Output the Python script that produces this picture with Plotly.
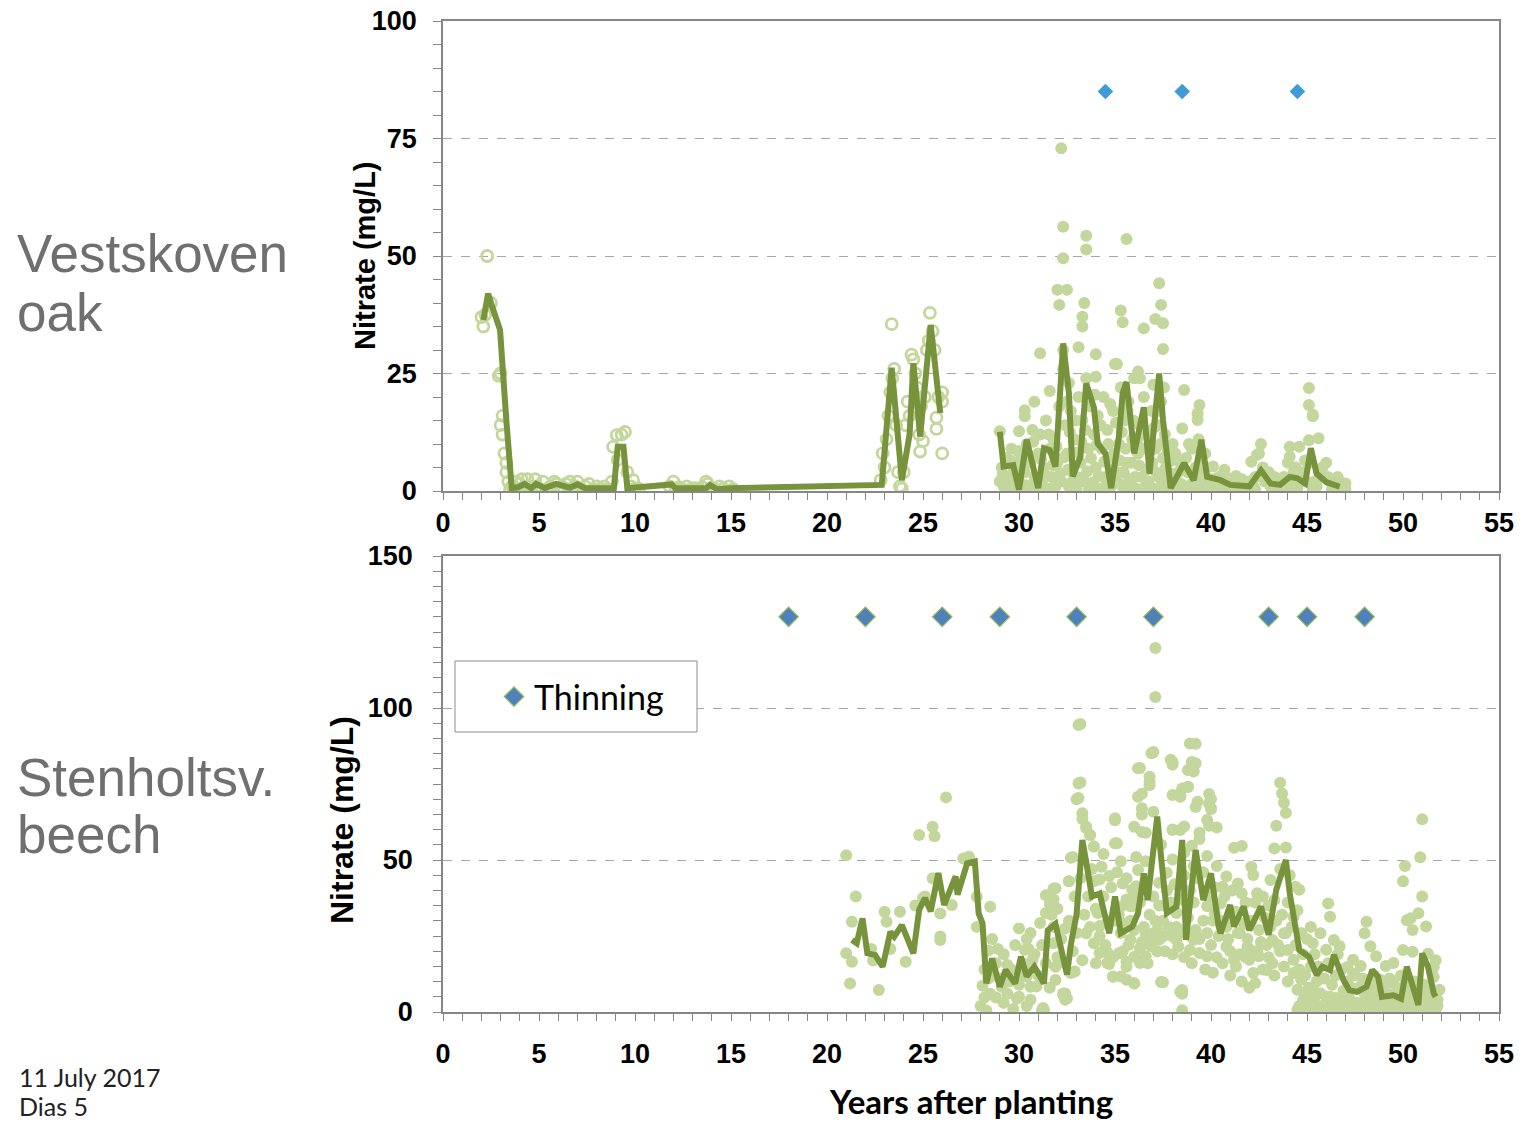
import plotly.graph_objects as go

W, H = 1523, 1122

# ---------------- DATA ----------------
years_ticks = [0, 5, 10, 15, 20, 25, 30, 35, 40, 45, 50, 55]

# Vestskoven oak: early observations (open circles)
oak_early_pts = [
    (2.0, 37), (2.1, 35), (2.2, 37.5), (2.3, 50), (2.5, 40), (2.9, 24.5), (3.0, 25), (3.0, 14),
    (3.1, 16), (3.1, 12), (3.2, 8), (3.3, 6), (3.3, 4), (3.4, 2), (3.5, 0.5), (3.6, 1), (3.7, 0.3),
    (3.8, 2), (3.9, 0.5), (4.0, 1.5), (4.1, 2.5), (4.2, 0.4), (4.4, 2.5), (4.5, 1), (4.6, 0.3),
    (4.8, 2.5), (4.9, 1), (5.0, 0.5), (5.2, 2), (5.4, 0.4), (5.6, 1), (5.8, 2), (5.9, 1.5),
    (6.0, 0.4), (6.2, 1), (6.4, 1.5), (6.6, 2), (6.7, 0.5), (6.9, 1), (7.0, 2), (7.2, 0.5),
    (7.4, 1), (7.6, 1.5), (7.8, 0.3), (8.0, 1), (8.2, 0.5), (8.4, 1), (8.6, 0.4), (8.8, 2),
    (8.86, 9.4), (9.05, 11.9), (9.1, 6.6), (9.3, 12), (9.48, 12.6), (9.6, 4), (9.8, 1), (9.9, 2.3),
    (10.0, 0.5), (10.2, 0.5), (11.8, 1), (12.0, 2), (12.1, 0.3), (12.3, 0.8), (12.5, 0.3),
    (12.7, 1), (12.9, 0.4), (13.1, 0.6), (13.3, 0.3), (13.5, 0.8), (13.7, 2), (13.8, 1.5),
    (14.0, 0.5), (14.2, 0.3), (14.4, 1), (14.6, 0.5), (14.9, 1), (15.1, 0.4),
    (22.8, 2.3), (22.9, 8), (23.0, 5), (23.1, 11), (23.2, 16), (23.3, 21), (23.37, 35.5),
    (23.4, 24), (23.5, 26), (23.6, 14), (23.7, 4), (23.8, 1), (23.9, 0.5), (24.0, 4), (24.1, 14),
    (24.2, 19), (24.3, 16), (24.4, 29), (24.5, 28), (24.6, 25), (24.7, 22), (24.8, 12),
    (24.85, 8.4), (24.9, 18), (25.0, 10.6), (25.1, 20), (25.2, 30), (25.3, 32), (25.36, 37.9),
    (25.5, 34), (25.6, 30), (25.7, 15.6), (25.7, 13.2), (25.8, 20), (26.0, 21), (26.0, 19), (26.0, 8),
]

# Vestskoven oak: later observations (filled circles)
oak_late_pts = [
    (29.0, 12.7), (29.0, 2), (29.1, 5), (29.2, 1), (29.3, 7), (29.4, 3), (29.5, 0.5), (29.6, 9),
    (29.7, 4), (29.8, 1), (29.9, 6), (30.0, 12.7), (30.0, 2), (30.1, 8), (30.2, 0.5), (30.3, 17.2),
    (30.3, 15.9), (30.3, 4), (30.4, 10), (30.5, 1), (30.6, 6), (30.7, 13), (30.8, 19), (30.8, 3),
    (30.9, 0.5), (31.0, 8), (31.1, 29.3), (31.1, 12), (31.2, 2), (31.3, 5), (31.4, 15), (31.5, 0.5),
    (31.6, 21.3), (31.6, 9), (31.7, 3), (31.8, 11), (31.9, 1), (32.0, 42.8), (32.0, 6),
    (32.1, 39.6), (32.1, 18), (32.2, 72.9), (32.2, 2), (32.3, 56.2), (32.3, 49.5), (32.3, 30),
    (32.3, 26), (32.4, 14), (32.5, 42.8), (32.5, 8), (32.6, 23), (32.6, 1), (32.7, 17), (32.8, 4),
    (32.9, 11), (33.0, 0.5), (33.1, 30.6), (33.1, 20), (33.2, 6), (33.3, 37.1), (33.3, 35),
    (33.3, 15), (33.4, 40), (33.4, 2), (33.5, 54.3), (33.5, 51.4), (33.5, 24), (33.6, 9),
    (33.7, 18), (33.8, 1), (33.9, 12), (34.0, 29.1), (34.0, 24.3), (34.0, 5), (34.1, 16),
    (34.2, 0.5), (34.3, 9), (34.4, 20), (34.5, 3), (34.6, 13), (34.7, 7), (34.8, 1), (34.9, 17),
    (35.0, 27), (35.1, 27), (35.1, 4), (35.2, 10), (35.3, 38.4), (35.3, 22), (35.4, 35.9),
    (35.4, 1), (35.5, 15), (35.6, 53.6), (35.6, 6), (35.7, 19), (35.8, 2), (35.9, 11), (36.0, 24),
    (36.1, 0.5), (36.2, 25.4), (36.2, 8), (36.3, 24), (36.3, 14), (36.4, 3), (36.5, 34.6),
    (36.5, 20), (36.6, 1), (36.7, 12), (36.8, 5), (36.9, 17), (37.0, 22.6), (37.0, 0.5),
    (37.1, 36.6), (37.1, 9), (37.2, 14), (37.3, 44.2), (37.3, 3), (37.4, 39.6), (37.4, 19),
    (37.5, 35.7), (37.5, 30.2), (37.5, 7), (37.6, 12), (37.7, 1), (37.8, 4), (37.9, 0.5),
    (38.0, 10), (38.2, 2), (38.4, 6), (38.5, 13.3), (38.6, 21.5), (38.6, 1), (38.8, 4), (39.0, 9),
    (39.1, 0.5), (39.3, 16.5), (39.3, 15.1), (39.3, 3), (39.4, 18.3), (39.5, 6), (39.6, 1),
    (39.7, 8), (39.9, 2), (40.1, 5.2), (40.2, 0.5), (40.4, 3), (40.6, 1), (40.8, 3), (41.0, 0.5),
    (41.2, 2), (41.4, 1), (41.6, 2.5), (41.8, 0.5), (42.0, 2), (42.1, 6.2), (42.2, 1), (42.4, 7.7),
    (42.5, 8), (42.6, 10), (42.8, 2), (43.0, 4), (43.1, 1), (43.3, 3), (43.5, 0.5), (43.7, 2),
    (43.9, 1), (44.1, 9.4), (44.1, 7.3), (44.2, 2), (44.4, 5), (44.5, 0.5), (44.6, 9.4),
    (44.8, 4), (45.0, 2), (45.1, 21.9), (45.1, 18.3), (45.1, 10.8), (45.3, 15.9), (45.3, 16.2),
    (45.5, 1), (45.6, 11.2), (45.7, 3), (46.0, 6), (46.2, 2), (46.4, 1.5), (46.5, 0.5), (46.6, 3),
    (46.6, 1.9), (46.8, 1.6), (47.0, 1.6), (47.0, 0.5),
    (30.45, 0.3), (31.25, 0.3), (32.85, 0.3), (33.65, 0.3), (34.35, 0.3), (35.65, 0.3),
    (36.35, 0.3), (37.25, 0.3), (38.1, 0.3), (38.9, 0.3), (39.8, 0.3), (40.5, 0.3), (41.5, 0.3),
    (42.3, 0.3), (43.2, 0.3), (44.3, 0.3), (45.3, 0.3), (46.3, 0.3),
    (29.15, 3.5), (29.35, 1.5), (29.55, 6.5), (29.75, 2.5), (29.95, 8.5), (30.15, 4.5),
    (30.35, 1.2), (30.55, 7.5), (30.75, 10.5), (30.95, 2.2), (31.15, 6.8), (31.35, 3.3),
    (31.55, 12), (31.75, 5.5), (31.95, 9.5), (32.15, 3.8), (32.35, 7.2), (32.45, 19),
    (32.55, 4.5), (32.65, 12.5), (32.75, 1.8), (32.95, 15), (33.05, 8.2), (33.15, 2.8),
    (33.25, 10.5), (33.45, 13), (33.55, 4.2), (33.75, 7), (33.85, 1.8), (33.95, 20.5),
    (34.05, 9.8), (34.15, 3.2), (34.25, 14), (34.45, 6.3), (34.55, 1.5), (34.65, 10),
    (34.75, 18.5), (34.85, 4.5), (34.95, 8), (35.05, 14.5), (35.15, 1.8), (35.25, 6.5),
    (35.35, 12.5), (35.45, 4), (35.55, 9), (35.65, 17), (35.75, 2.5), (35.85, 6), (35.95, 15),
    (36.05, 3), (36.15, 11), (36.25, 5.5), (36.45, 9), (36.55, 13), (36.65, 4.5), (36.75, 2),
    (36.85, 9.5), (36.95, 6), (37.05, 13.5), (37.15, 4), (37.25, 17), (37.35, 10), (37.45, 1.8),
    (37.55, 22), (37.65, 5), (37.75, 8.5), (37.85, 2.2), (37.95, 6.5), (38.05, 3.5), (38.15, 8),
    (38.3, 4), (38.45, 1.5), (38.7, 7), (38.85, 10), (39.0, 1.5), (39.2, 5), (39.35, 11),
    (39.6, 3.5), (39.75, 5), (40.0, 2.5), (40.3, 1.5), (40.7, 4.5), (41.1, 1.2), (41.3, 3.2),
    (41.7, 1.2), (42.3, 3), (42.7, 5), (42.9, 3), (43.4, 1.5), (43.8, 3), (44.0, 6), (44.3, 4),
    (44.7, 2), (44.9, 6.5), (45.15, 6), (45.4, 2), (45.8, 5), (46.1, 3), (46.7, 0.8),
]

# Vestskoven oak: running mean (None breaks the line)
oak_mean_pts = [
    (2.1, 36.4), (2.35, 42), (2.5, 40), (2.97, 34.3), (3.3, 15), (3.58, 0.6), (3.9, 0.8),
    (4.25, 1.5), (4.6, 0.6), (4.85, 1.5), (5.3, 0.6), (5.9, 1.5), (6.6, 0.7), (7.0, 1.4),
    (7.4, 0.6), (8.5, 0.6), (8.9, 0.6), (9.1, 9.4), (9.4, 9.4), (9.6, 0.6), (11.9, 1.4),
    (12.1, 0.6), (13.7, 0.6), (13.9, 1.3), (14.25, 0.4), (14.95, 0.6), (22.85, 1.3),
    (23.37, 26.2), (23.9, 2.3), (24.3, 12), (24.5, 27.2), (24.85, 11.6), (25.4, 35.3),
    (25.9, 16.6),
    (None, None),
    (29.0, 12.6), (29.2, 5.2), (29.7, 5.5), (30.0, 0.3), (30.4, 10.9), (30.7, 5.2), (31.0, 0.6),
    (31.3, 9.1), (31.6, 8.7), (31.9, 5.2), (32.3, 31.4), (32.6, 20.8), (32.8, 3.1), (33.2, 7.3),
    (33.5, 22.9), (33.9, 17.8), (34.1, 10.1), (34.5, 8), (34.8, 0.6), (35.2, 11.5), (35.4, 20.8),
    (35.6, 23.2), (36.0, 8), (36.5, 17.8), (36.8, 3.7), (37.3, 25), (37.5, 15.1), (37.9, 0.6),
    (38.6, 5.9), (39.1, 2.3), (39.5, 10.9), (39.8, 3.0), (40.5, 2.3), (41.0, 1.3), (42.0, 1.0),
    (42.6, 4.4), (43.1, 1.6), (43.6, 1.3), (44.1, 3.0), (44.5, 2.7), (44.9, 1.6), (45.2, 9.1),
    (45.5, 3.7), (46.0, 1.9), (46.7, 0.9),
]

oak_thinning_years = [34.5, 38.5, 44.5]
oak_thinning_level = 85

# Stenholtsvang beech: observations
beech_pts = [
    (21.0, 51.6), (21.5, 38), (21.3, 29.7), (21.0, 19.3), (21.3, 16.5), (21.2, 9.4), (22.3, 20.7),
    (22.4, 16.9), (22.7, 7.2), (23.0, 33), (23.1, 29.7), (23.3, 20.7), (23.8, 33), (24.1, 16.5),
    (24.8, 58.2), (24.6, 35), (25.0, 37.5), (25.1, 38), (25.5, 60.9), (25.6, 57.8), (25.5, 44),
    (25.9, 23.7), (25.9, 24.8), (26.2, 70.6), (25.9, 32.4), (26.5, 35.2), (27.1, 50.5),
    (27.4, 51.1), (27.8, 37.9), (27.8, 28), (28.5, 34.6), (28.4, 20.2), (28.9, 20.7), (28.1, 8.6),
    (28.2, 4.8), (28.8, 4.8), (29.1, 8.3), (29.4, 15.5), (29.9, 4.4), (30.0, 27.5), (30.3, 14.9),
    (30.5, 20.7), (30.6, 8.3), (31.2, 0.6), (31.6, 38.5), (31.9, 40.7), (31.6, 32.6), (31.7, 32),
    (31.9, 10.5), (32.3, 6.1), (32.5, 4.4), (32.6, 43), (32.7, 50.7), (32.9, 13.3), (33.1, 75.2),
    (33.0, 70), (33.3, 65.4), (33.5, 60.9), (33.7, 58.2), (33.9, 54.4), (34.3, 47.8), (33.9, 43),
    (34.1, 32.6), (34.2, 28.3), (34.6, 19.6), (34.7, 15.8), (34.9, 11.6), (35.0, 63.1),
    (35.0, 55.5), (35.3, 49.6), (35.4, 42.3), (35.9, 40.2), (35.3, 34.6), (35.8, 35.2),
    (35.2, 19.3), (35.6, 16.5), (36.0, 9.4), (36.0, 60.9), (36.4, 59.2), (36.4, 67), (36.4, 71.8),
    (36.8, 75.7), (37.0, 65.9), (37.4, 9.9), (38.4, 6.6), (38.0, 71.4), (38.4, 70.8), (38.8, 74.1),
    (38.0, 59.9), (38.4, 59.9), (39.3, 69.2), (36.6, 49.6), (36.2, 46.7), (37.0, 25.9),
    (37.5, 24.8), (38.0, 24.8), (38.3, 21.5), (36.4, 23), (36.0, 18.2), (35.6, 14.9), (38.9, 20.4),
    (39.0, 24.8), (38.5, 6), (38.5, 0.6),
    (33.2, 94.7), (33.1, 94.4), (33.2, 75.5), (33.1, 70.4), (33.3, 63.5), (33.5, 60.5),
    (33.7, 58.2), (32.8, 51), (32.6, 43), (33.9, 54.4), (35.0, 63.7), (35.1, 55.5), (36.2, 80.2),
    (36.9, 85.1), (36.8, 77.4), (36.8, 74.6), (36.2, 70.8), (36.4, 65), (36.6, 59),
    (37.1, 119.7), (37.1, 103.6), (37.0, 85.5), (36.3, 80.3), (37.9, 83), (38.0, 81.3),
    (38.0, 82.2), (39.2, 88.2), (38.9, 88.3), (39.0, 82.2), (38.8, 79.6), (38.5, 73.5),
    (38.3, 71.4), (39.9, 71.7), (39.9, 68.6), (40.0, 67), (39.8, 63.2), (38.6, 61), (38.0, 60),
    (39.4, 59), (31.4, 38.4), (31.8, 40.6), (31.6, 35.7), (32.4, 27.5), (32.4, 6.1), (32.4, 4.0),
    (31.3, 0.6), (38.5, 7.2), (37.5, 9.8),
    (33.5, 25.9), (33.9, 22.6), (34.2, 19.4), (34.6, 16.1), (34.9, 11.7), (35.3, 11.7),
    (35.6, 10.6), (36.0, 9.5), (36.6, 18.3), (36.3, 16.1), (36.9, 21.6), (37.3, 23.8),
    (36.6, 26), (37.2, 27.1), (37.8, 26), (38.2, 23.8), (39.1, 23.8), (39.4, 19.4), (39.8, 18.3),
    (40.1, 12.9), (35.3, 26), (35.8, 23.8), (35.8, 34.8), (36.1, 41.4), (34.2, 43.6),
    (34.7, 44.7), (34.2, 32.8), (34.6, 29.5), (35.6, 37), (35.9, 34.8), (37.3, 42.5),
    (37.7, 45.8), (38.0, 50.2), (38.6, 52.4), (39.1, 48), (39.8, 51.3), (40.3, 48), (37.7, 34.8),
    (38.2, 32.6), (39.8, 34.8), (40.2, 32.6), (31.8, 37), (31.4, 32.6), (31.1, 29.3), (30.6, 26),
    (30.3, 20.5), (30.7, 17.2), (31.8, 22.6), (31.9, 14.9), (30.4, 11.7), (30.9, 8.4),
    (32.7, 12.8), (32.3, 5.6), (31.25, 1.3),
    (39.2, 81.8), (39.1, 79.1), (38.8, 74), (38.4, 71.2), (40.0, 70.1), (40.0, 66.8),
    (39.9, 61.3), (40.3, 60.7), (39.2, 67.4), (39.4, 56.9), (39.0, 54.7),
    (43.6, 75.4), (43.7, 71.9), (43.8, 68.8), (43.9, 65.5), (43.4, 61.3), (43.3, 53.8),
    (43.9, 54.1), (41.2, 54), (41.6, 54.6), (42.1, 47.8), (42.2, 45.1), (40.8, 44.6),
    (40.6, 41.2), (41.4, 42.3), (41.6, 39.1), (42.4, 39.1), (42.7, 38), (43.1, 43.4),
    (43.3, 36.8), (40.5, 35.7), (41.0, 31.3), (41.5, 25.9), (41.9, 21.5), (40.8, 21.5),
    (41.2, 17.2), (42.0, 17.2), (42.5, 18.3), (42.9, 13.8), (42.2, 12.8), (42.3, 9.5),
    (43.2, 23.7), (43.8, 25.9), (44.3, 31.3), (44.5, 33.5), (44.4, 41.2), (44.6, 40.2),
    (44.5, 0.7), (44.0, 20.4), (44.3, 17.2), (44.3, 12.8), (44.7, 10.6), (44.5, 7.3), (44.9, 6.2),
    (45.2, 28), (45.7, 25.9), (46.1, 35.7), (46.2, 31.3), (45.3, 22.6), (46.0, 20.5),
    (46.4, 23.7), (46.7, 21.6), (45.3, 7.3), (45.7, 6.2), (46.0, 5.1), (46.5, 4.6), (47.0, 6.2),
    (47.6, 3), (48.1, 29.7), (48.0, 25.9), (48.3, 21.6), (48.6, 18.3), (47.4, 17.2),
    (47.8, 15.1), (48.1, 4.1), (48.6, 1.9), (49.1, 3), (49.1, 15.1), (49.5, 16.1), (48.8, 10.6),
    (49.5, 9.5), (49.9, 1.9), (50.2, 0.8), (50.8, 1.3), (51.2, 1.3), (51.7, 1.9), (51.0, 63.4),
    (50.9, 50.9), (50.1, 48), (50.0, 43), (51.0, 38), (50.8, 32.5), (51.2, 28.1), (50.5, 27),
    (50.4, 30.8), (50.2, 30.2), (50.0, 20.4), (50.5, 19.8), (51.3, 19.2), (51.6, 11.5),
    (51.6, 14.8), (51.7, 17), (47.1, 14.8), (47.4, 12.6), (48.5, 6.2), (50.2, 6.2), (50.8, 7.3),
    (51.3, 6.2), (51.9, 7.3),
    (44.6, 2), (44.8, 4), (45.0, 1), (45.2, 3), (45.4, 5), (45.6, 2), (45.8, 0.8), (46.0, 3),
    (46.2, 5), (46.4, 1.5), (46.6, 3.5), (46.8, 0.8), (47.0, 2.5), (47.2, 4.5), (47.4, 1),
    (47.6, 3), (47.8, 0.6), (48.0, 2), (48.2, 4), (48.4, 1), (48.6, 3), (48.8, 0.5), (49.0, 2),
    (49.2, 4), (49.4, 1), (49.6, 2.5), (49.8, 0.6), (50.0, 3), (50.2, 1.5), (50.4, 4), (50.6, 0.8),
    (50.8, 3), (51.0, 0.5), (51.2, 2.5), (51.4, 0.8), (51.5, 3.5), (51.7, 1), (51.8, 2),
    (41.0, 12), (41.3, 15), (41.6, 10), (41.8, 18), (42.0, 8), (42.4, 20), (42.7, 14), (43.0, 18),
    (43.3, 12), (43.6, 20), (43.8, 15), (44.0, 10),
    (28.0, 2), (28.3, 0.5), (28.5, 6), (28.7, 12), (29.2, 3), (29.5, 10), (29.7, 1), (30.0, 5),
    (30.2, 12), (30.4, 2),
    (28.2, 14), (28.4, 11), (28.6, 24), (28.8, 16), (29.0, 11), (29.2, 19), (29.4, 6), (29.6, 14),
    (29.8, 22), (30.0, 9), (30.2, 16), (30.4, 24), (30.6, 4), (30.8, 19), (31.0, 12), (31.2, 22),
    (31.4, 16), (31.6, 8), (31.8, 28), (32.0, 18), (32.0, 34), (32.2, 24), (32.4, 16), (32.6, 30),
    (32.8, 20), (32.9, 38), (33.0, 26), (33.2, 44), (33.3, 17), (33.4, 32), (33.6, 38), (33.7, 28),
    (33.8, 47), (34.0, 34), (34.0, 16), (34.2, 25), (34.4, 38), (34.4, 52), (34.5, 22), (34.7, 30),
    (34.8, 41), (34.9, 18), (35.0, 30), (35.1, 46), (35.2, 32), (35.4, 20), (35.5, 29), (35.6, 44),
    (35.7, 22), (35.8, 30), (36.0, 38), (36.0, 27), (36.1, 51), (36.3, 21), (36.3, 36), (36.5, 28),
    (36.6, 41), (36.7, 16), (36.8, 32), (36.9, 24), (37.0, 38), (37.1, 30), (37.2, 20), (37.3, 35),
    (37.4, 55), (37.5, 30), (37.6, 20), (37.7, 40), (37.8, 28), (37.9, 36), (38.0, 19), (38.1, 42),
    (38.2, 28), (38.4, 37), (38.4, 26), (38.6, 45), (38.6, 18), (38.8, 31), (38.9, 40), (39.0, 16),
    (39.1, 36), (39.2, 27), (39.3, 44), (39.4, 24), (39.6, 30), (39.6, 46), (39.7, 14), (39.8, 26),
    (39.9, 38), (40.0, 22), (40.1, 30), (40.2, 41), (40.3, 18), (40.4, 25), (40.5, 30), (40.6, 16),
    (40.7, 38), (40.8, 28), (40.9, 24), (41.0, 20), (41.1, 40), (41.3, 33), (41.4, 26), (41.5, 19),
    (41.7, 29), (41.8, 36), (41.9, 24), (42.1, 30), (42.2, 20), (42.3, 36), (42.5, 27), (42.6, 23),
    (42.8, 31), (42.9, 22), (43.0, 35), (43.1, 28), (43.2, 16), (43.4, 30), (43.5, 22), (43.6, 47),
    (43.7, 32), (43.9, 26), (44.0, 36), (44.1, 45), (44.2, 28), (44.4, 22), (44.6, 14), (44.7, 26),
    (44.8, 19), (44.9, 12), (45.0, 24), (45.1, 8), (45.2, 15), (45.4, 19), (45.5, 10), (45.6, 15),
    (45.9, 11), (46.1, 16), (46.3, 9), (46.5, 12), (46.6, 19), (46.8, 14), (46.9, 7), (47.1, 10),
    (47.3, 8), (47.5, 12), (47.7, 8), (47.9, 11), (48.0, 6), (48.3, 9), (48.5, 12), (48.7, 7),
    (49.0, 9), (49.2, 6), (49.3, 11), (49.7, 7), (49.9, 12), (50.1, 9), (50.3, 5), (50.6, 10),
    (50.9, 4), (51.1, 9), (51.4, 5), (51.6, 3), (51.8, 4), (45.3, 1.5), (45.7, 0.5), (46.1, 1),
    (46.5, 2), (46.9, 1.5), (47.3, 0.5), (47.7, 2), (48.1, 1), (48.5, 0.5), (48.9, 1.5),
    (49.3, 2.5), (49.7, 1), (50.1, 0.5), (50.5, 2.5), (50.9, 1), (51.3, 0.3), (51.6, 2.2),
]

# Stenholtsvang beech: running mean
beech_mean_pts = [
    (21.3, 23.7), (21.55, 22.6), (21.85, 30.8), (22.1, 19.3), (22.5, 18.8), (22.9, 14.9),
    (23.3, 26.4), (23.5, 24.8), (23.9, 28.6), (24.5, 19.3), (24.8, 33.6), (25.1, 37.5),
    (25.4, 33.1), (25.8, 45.7), (26.1, 35.2), (26.7, 44.6), (26.8, 38.6), (27.3, 48.9),
    (27.7, 49.5), (27.9, 32.4), (28.1, 29.2), (28.3, 9.4), (28.6, 17.6), (29.0, 8.3),
    (29.3, 13.8), (29.8, 9.4), (30.1, 18.2), (30.4, 11.7), (30.8, 14.9), (31.3, 9.4),
    (31.5, 26.9), (31.9, 29), (32.5, 12.3), (32.7, 22.2), (33.0, 32.2), (33.3, 56.6),
    (33.6, 45.6), (33.8, 38), (34.2, 39), (34.7, 25.9), (35.0, 38), (35.3, 25.9), (35.9, 28.1),
    (36.2, 32.5), (36.5, 45.6), (36.7, 36.8), (36.9, 47.8), (37.2, 64.3), (37.4, 51),
    (37.7, 32.5), (38.2, 34.7), (38.5, 56.6), (38.7, 23.7), (39.2, 53.3), (39.6, 36.8),
    (40.0, 45.6), (40.4, 28.1), (40.5, 25.9), (41.0, 35.2), (41.2, 28.1), (41.7, 34.7),
    (42.0, 26.9), (42.6, 34.7), (43.0, 25.4), (43.4, 40.2), (43.9, 50), (44.1, 39.1),
    (44.6, 20.4), (45.1, 18.2), (45.5, 12.2), (45.8, 14.9), (46.2, 13.8), (46.4, 18.8),
    (46.9, 10.5), (47.2, 7.2), (47.6, 6.6), (48.1, 8.3), (48.4, 13.8), (48.7, 11.6), (48.9, 5.0),
    (49.5, 5.5), (49.9, 4.4), (50.2, 14.9), (50.5, 8.3), (50.8, 2.3), (51.0, 19.3), (51.3, 14.9),
    (51.6, 6.1), (51.7, 5),
]

beech_thinning_years = [18, 22, 26, 29, 33, 37, 43, 45, 48]
beech_thinning_level = 130

# ---------------- STYLE ----------------
LIGHT = "#c3d69b"
DARK = "#77933c"
AXIS = "#868686"
GRID = "#a6a6a6"


def xs(pts):
    return [p[0] for p in pts]


def ys(pts):
    return [p[1] for p in pts]


fig = go.Figure()

# top panel
fig.add_trace(go.Scatter(x=xs(oak_early_pts), y=ys(oak_early_pts), mode="markers",
                         marker=dict(symbol="circle-open", size=11, color=LIGHT, line=dict(width=2.8, color=LIGHT)),
                         xaxis="x", yaxis="y", showlegend=False))
fig.add_trace(go.Scatter(x=xs(oak_late_pts), y=ys(oak_late_pts), mode="markers",
                         marker=dict(symbol="circle", size=12, color=LIGHT, line=dict(width=0)),
                         xaxis="x", yaxis="y", showlegend=False))
fig.add_trace(go.Scatter(x=xs(oak_mean_pts), y=ys(oak_mean_pts), mode="lines",
                         line=dict(color=DARK, width=6), connectgaps=False,
                         xaxis="x", yaxis="y", showlegend=False))
fig.add_trace(go.Scatter(x=oak_thinning_years, y=[oak_thinning_level] * len(oak_thinning_years),
                         mode="markers", marker=dict(symbol="diamond", size=12, color="#3f9bd3",
                                                     line=dict(width=0)),
                         xaxis="x", yaxis="y", showlegend=False))

# bottom panel
fig.add_trace(go.Scatter(x=xs(beech_pts), y=ys(beech_pts), mode="markers",
                         marker=dict(symbol="circle", size=12, color=LIGHT, line=dict(width=0)),
                         xaxis="x2", yaxis="y2", showlegend=False))
fig.add_trace(go.Scatter(x=xs(beech_mean_pts), y=ys(beech_mean_pts), mode="lines",
                         line=dict(color=DARK, width=6),
                         xaxis="x2", yaxis="y2", showlegend=False))
fig.add_trace(go.Scatter(x=beech_thinning_years, y=[beech_thinning_level] * len(beech_thinning_years),
                         mode="markers", name="Thinning",
                         marker=dict(symbol="diamond", size=15, color="#4f81bd",
                                     line=dict(width=1.2, color="#9bbb59")),
                         xaxis="x2", yaxis="y2", showlegend=True))

tickfont = dict(family="Liberation Sans", size=27, color="#000000", weight="bold")

xdom = [443 / W, 1499 / W]


def xaxis_cfg(anchor, standoff):
    return dict(domain=xdom, range=[0, 55], tickmode="array", tickvals=years_ticks,
                ticks="outside", ticklen=7, tickcolor=AXIS, tickwidth=1,
                showline=True, linecolor=AXIS, linewidth=1.5, mirror=True,
                showgrid=False, zeroline=False, anchor=anchor, tickfont=tickfont,
                ticklabelstandoff=standoff, automargin=False,
                minor=dict(dtick=1, tick0=0, ticks="outside", ticklen=7, tickcolor=AXIS, showgrid=False))


def yaxis_cfg(dom, rng, dtick, anchor, standoff):
    return dict(domain=dom, range=rng, dtick=dtick, tick0=0,
                ticks="outside", ticklen=8, tickcolor=AXIS,
                showline=True, linecolor=AXIS, linewidth=1.5, mirror=True,
                showgrid=True, gridcolor=GRID, griddash="dash", gridwidth=1,
                zeroline=False, anchor=anchor, tickfont=tickfont,
                ticklabelstandoff=standoff, automargin=False,
                minor=dict(dtick=5, tick0=0, ticks="outside", ticklen=8, tickcolor=AXIS, showgrid=False))


fig.update_layout(
    template="none",
    width=W, height=H,
    margin=dict(l=0, r=0, t=0, b=0, pad=0, autoexpand=False),
    paper_bgcolor="white", plot_bgcolor="white",
    xaxis=xaxis_cfg("y", 0),
    yaxis=yaxis_cfg([1 - 491 / H, 1 - 21 / H], [0, 100], 25, "x", 11),
    xaxis2=xaxis_cfg("y2", 10),
    yaxis2=yaxis_cfg([1 - 1012 / H, 1 - 556 / H], [0, 150], 50, "x2", 15),
    showlegend=True,
    legend=dict(x=494 / W, y=1 - 697 / H, xanchor="left", yanchor="middle",
                bgcolor="rgba(0,0,0,0)", borderwidth=0,
                font=dict(family="Lato", size=34, color="#000000")),
    shapes=[dict(type="rect", xref="paper", yref="paper",
                 x0=455 / W, x1=697 / W, y0=1 - 732 / H, y1=1 - 661 / H,
                 line=dict(color="#8c8c8c", width=1), fillcolor="white", layer="above")],
)

annots = [
    dict(text="Nitrate (mg/L)", x=365 / W, y=1 - 256 / H, textangle=-90,
         font=dict(family="Liberation Sans", size=29, weight="bold", color="#000")),
    dict(text="Nitrate (mg/L)", x=342 / W, y=1 - 820 / H, textangle=-90,
         font=dict(family="Liberation Sans", size=32, weight="bold", color="#000")),
    dict(text="Years after planting", x=971 / W, y=1 - 1101 / H,
         font=dict(family="Lato", size=33, weight="bold", color="#000")),
]
left_lines = [("Vestskoven", 254), ("oak", 312), ("Stenholtsv.", 777), ("beech", 834)]
for txt, yc in left_lines:
    annots.append(dict(text=txt, x=15 / W, y=1 - yc / H, xanchor="left",
                       font=dict(family="Liberation Sans", size=53, color="#6f6f6f")))
for txt, yc in [("11 July 2017", 1077), ("Dias 5", 1106)]:
    annots.append(dict(text=txt, x=17 / W, y=1 - yc / H, xanchor="left",
                       font=dict(family="Lato", size=25, color="#222")))

for a in annots:
    a.setdefault("xanchor", "center")
    a.update(xref="paper", yref="paper", yanchor="middle", showarrow=False)
fig.update_layout(annotations=annots)

fig.write_html("out.html")
